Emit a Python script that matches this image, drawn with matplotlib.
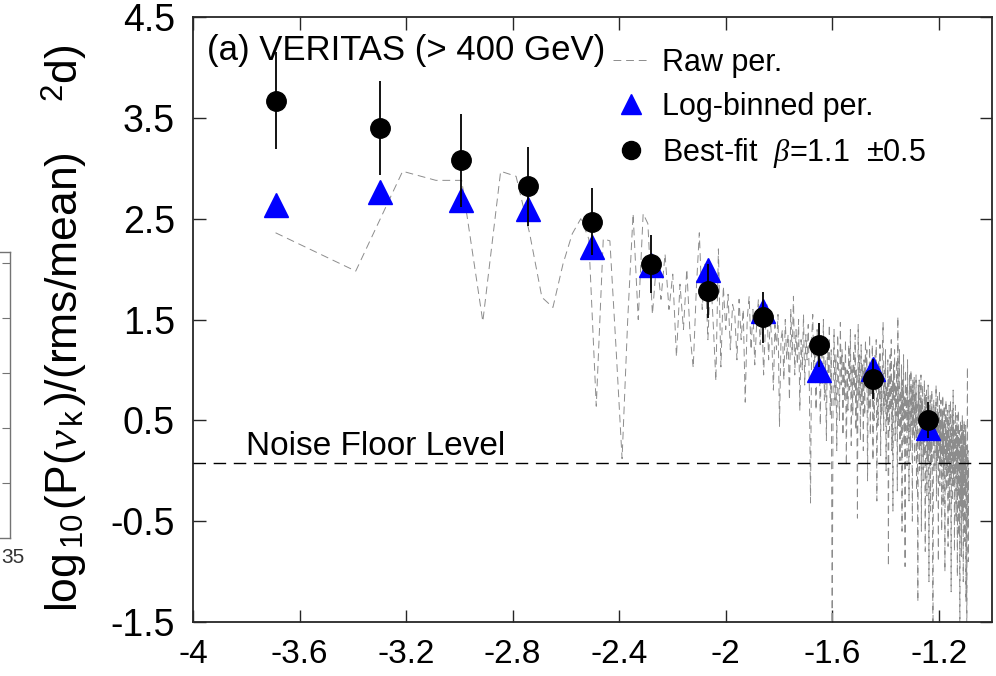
import numpy as np
import matplotlib
matplotlib.use("Agg")
import matplotlib.pyplot as plt
from matplotlib.lines import Line2D

# フォント設定
plt.rcParams["font.family"] = ["Liberation Sans", "DejaVu Sans"]
plt.rcParams["mathtext.fontset"] = "custom"
plt.rcParams["mathtext.rm"] = "Liberation Sans"
plt.rcParams["mathtext.it"] = "Liberation Serif:italic"
plt.rcParams["axes.unicode_minus"] = False

# raw periodogram: log10 of frequency index spacing, values per harmonic k = 1..400
log_f0 = -3.69
raw_power = [
    2.36, 1.98, 2.97, 2.88, 2.88, 1.48, 2.97, 2.92, 2.35, 1.72,
    1.62, 2.05, 2.35, 2.50, 2.30, 0.64, 2.30, 2.28, 1.20, 0.12,
    1.50, 2.55, 1.50, 2.55, 2.45, 1.55, 2.10, 1.70, 2.15, 1.60,
    1.95, 1.13, 1.85, 1.40, 2.00, 1.35, 1.02, 1.80, 2.36, 1.60,
    2.05, 1.30, 1.95, 1.45, 0.89, 2.20, 1.03, 1.83, 1.40, 1.75,
    1.20, 1.65, 1.55, 1.10, 1.70, 1.30, 1.60, 0.68, 1.50, 1.73,
    1.20, 1.60, 1.05, 1.45, 1.70, 1.25, 1.55, 0.95, 1.40, 1.65,
    1.10, 1.50, 1.30, 0.80, 1.45, 1.20, 1.55, 0.44, 1.30, 1.40,
    0.90, 1.50, 1.10, 1.35, 0.70, 1.60, 1.15, 1.73, 0.95, 1.40,
    1.05, 1.50, 0.60, 1.30, 1.00, 1.55, 0.85, 1.35, 1.10, 1.45,
    0.80, -0.32, 1.30, 1.55, 0.90, 1.20, 0.60, 1.40, 1.00, 1.25,
    0.45, 1.35, 0.85, 1.50, 0.70, 1.10, 0.30, 1.30, 0.95, 1.45,
    0.55, 1.20, -1.70, 0.80, 1.40, 0.65, 1.15, 0.20, 1.35, 0.90,
    0.50, 1.47, 0.85, 1.20, 0.35, 1.10, 0.70, 1.30, 0.05, 1.00,
    0.60, 1.25, 0.80, 1.40, 0.25, 1.05, 0.55, 1.20, 0.75, 1.35,
    0.40, 1.00, -0.47, 1.45, 0.70, 1.15, 0.30, 1.25, 0.65, 1.05,
    0.20, 1.10, 0.55, 1.30, 0.85, 1.20, -0.10, 0.95, 0.60, 1.35,
    0.35, 1.05, 0.75, 1.25, 0.10, 0.90, 0.50, 1.15, 0.80, 1.30,
    -0.30, 0.85, 0.45, 1.10, 0.70, 1.25, 0.15, 0.95, 0.55, 1.20,
    1.47, 0.40, 1.00, 0.65, 1.20, 0.00, 0.85, 0.50, 1.10, -0.95,
    0.95, 0.40, 1.15, 0.60, 1.30, 0.20, 0.90, -0.40, 1.05, 0.70,
    1.20, 0.30, 0.85, 0.55, 1.10, -0.20, 1.53, 0.45, 0.95, 1.20,
    0.10, 0.80, 0.35, 1.05, -0.60, 0.90, 0.50, 1.15, 0.25, 0.75,
    -0.95, 1.00, 0.55, 0.85, 0.05, 1.10, 0.40, 0.70, -0.30, 0.95,
    0.60, 0.20, 1.00, 0.45, 0.80, -0.50, 0.90, 0.35, 0.65, 0.93,
    0.10, 0.75, 0.40, 0.95, -0.20, 0.70, 0.30, -1.30, 0.85, 0.50,
    0.90, 0.00, 0.65, 0.25, 0.95, -0.60, 0.70, 0.40, 0.85, -0.10,
    0.60, 0.15, 0.90, 0.45, -0.80, 0.75, 0.30, 0.80, -0.25, 0.55,
    0.10, 0.85, 0.40, -1.10, 0.65, 0.20, 0.75, -0.40, 0.50, 0.05,
    0.80, 0.35, -0.70, -1.80, 0.15, 0.70, 0.30, 0.45, 0.00, 0.65,
    0.30, 0.85, -0.30, 0.55, 0.10, 0.75, 0.35, -0.90, 0.60, 0.20,
    0.80, -0.15, 0.50, 0.05, 0.70, 0.30, -0.60, 0.55, 0.15, 0.75,
    -0.35, 0.45, 0.00, 0.65, 0.25, -1.00, 0.55, 0.10, 0.70, -0.20,
    0.40, -0.05, 0.60, 0.20, -0.75, 0.50, 0.05, 0.65, -0.40, 0.35,
    -0.10, 0.70, 0.15, -1.20, 0.45, 0.00, 0.60, -0.30, 0.30, 0.80,
    -0.15, 0.50, 0.10, -0.80, 0.40, -0.05, 0.65, 0.20, -0.50, 0.45,
    0.00, 0.55, -1.05, 0.35, -0.20, 0.60, 0.15, -0.65, 0.40, -0.10,
    -1.90, 0.30, 0.50, -0.35, 0.25, -0.85, 0.45, 0.05, 0.55, -0.45,
    0.20, -1.10, 0.40, -0.15, 0.50, 0.10, -0.70, 0.35, -0.25, 0.45,
    -1.30, 0.25, -0.40, -1.90, 0.30, 1.03, -0.55, 0.20, -0.90, 0.10,
]

# log-binned periodogram and best-fit simulated points
bin_x = [-3.69, -3.299, -2.995, -2.742, -2.503, -2.279, -2.066, -1.858, -1.651, -1.448, -1.239]
bin_power = [2.64, 2.76, 2.69, 2.60, 2.22, 2.04, 1.99, 1.58, 1.00, 1.01, 0.42]
fit_power = [3.67, 3.40, 3.08, 2.82, 2.47, 2.05, 1.78, 1.52, 1.25, 0.91, 0.50]
fit_err = [0.48, 0.47, 0.46, 0.39, 0.33, 0.29, 0.27, 0.25, 0.22, 0.20, 0.18]

noise_floor = 0.08

x_ticks = [-4, -3.6, -3.2, -2.8, -2.4, -2.0, -1.6, -1.2]
x_tick_labels = ["-4", "-3.6", "-3.2", "-2.8", "-2.4", "-2", "-1.6", "-1.2"]
y_ticks = [-1.5, -0.5, 0.5, 1.5, 2.5, 3.5, 4.5]
y_tick_labels = ["-1.5", "-0.5", "0.5", "1.5", "2.5", "3.5", "4.5"]

W, H = 996, 676
fig = plt.figure(figsize=(W / 100, H / 100), dpi=100)

# 隣のパネルの端（切れている部分）
ax0 = fig.add_axes([-0.3, (H - 538) / H, 0.3 + 9.5 / W, 286 / H])
ax0.set_xlim(0, 1)
ax0.set_ylim(0, 286 / 55)
ax0.set_yticks([1, 2, 3, 4, 5])
ax0.set_xticks([])
ax0.yaxis.tick_right()
ax0.tick_params(axis="y", direction="in", length=6, width=0.8, colors="0.45", labelright=False)
for s in ["top", "bottom", "right"]:
    ax0.spines[s].set_color("0.45")
    ax0.spines[s].set_linewidth(1.0)
ax0.spines["left"].set_visible(False)
fig.text(1 / W, (H - 548) / H, "35", fontsize=15, ha="left", va="top", color="0.2")

# main panel
ax = fig.add_axes([193 / W, (H - 622) / H, (992 - 193) / W, (622 - 17) / H])

k = np.arange(1, len(raw_power) + 1)
raw_x = np.log10(k) + log_f0
raw_line, = ax.plot(raw_x, raw_power, color="0.55", lw=0.7, zorder=2)
raw_line.set_dashes((8, 5))

nf = ax.axhline(noise_floor, color="black", lw=1.0, zorder=3)
nf.set_dashes((9, 5.5))
ax.text(-3.80, 0.155, "Noise Floor Level", fontsize=24, va="baseline", ha="left")

ax.plot(bin_x, bin_power, ls="none", marker="^", ms=17, color="blue", mec="blue", zorder=4)
ax.errorbar(bin_x, fit_power, yerr=fit_err, fmt="o", ms=14, color="black",
            ecolor="black", elinewidth=1.3, capsize=0, zorder=5)

ax.text(0.0175, 0.972, "(a) VERITAS (> 400 GeV)", transform=ax.transAxes,
        fontsize=25, ha="left", va="top")

ax.set_xlim(-4, -1)
ax.set_ylim(-1.5, 4.5)
ax.set_xticks(x_ticks)
ax.set_xticklabels(x_tick_labels)
ax.set_yticks(y_ticks)
ax.set_yticklabels(y_tick_labels)
ax.tick_params(axis="both", direction="in", length=9, width=1.0, color="0.15",
               top=True, right=True)
ax.tick_params(axis="y", labelsize=27, pad=13)
ax.tick_params(axis="x", labelsize=24, pad=12)
for s in ax.spines.values():
    s.set_linewidth(1.3)
    s.set_color("0.15")

ax.set_ylabel(r"log$_{\,10\,}$(P($\nu_{\,\mathrm{k}\,}$)/(rms/mean)    $^{2}$d)", fontsize=32)
ax.yaxis.set_label_coords(-0.13, 0.485)

handles = [
    Line2D([], [], color="0.55", lw=0.7, dashes=(8, 5)),
    Line2D([], [], ls="none", marker="^", ms=15, color="blue"),
    Line2D([], [], ls="none", marker="o", ms=13, color="black"),
]
labels = ["Raw per.", "Log-binned per.", r"Best-fit  $\beta$=1.1  $\pm$0.5"]
fig.legend(handles, labels, loc="upper left", bbox_to_anchor=(613 / W, (H - 48) / H),
           frameon=False, fontsize=22, handlelength=1.2, handletextpad=0.4,
           labelspacing=0.45, borderpad=0, borderaxespad=0)

fig.savefig("out.png", dpi=100)
